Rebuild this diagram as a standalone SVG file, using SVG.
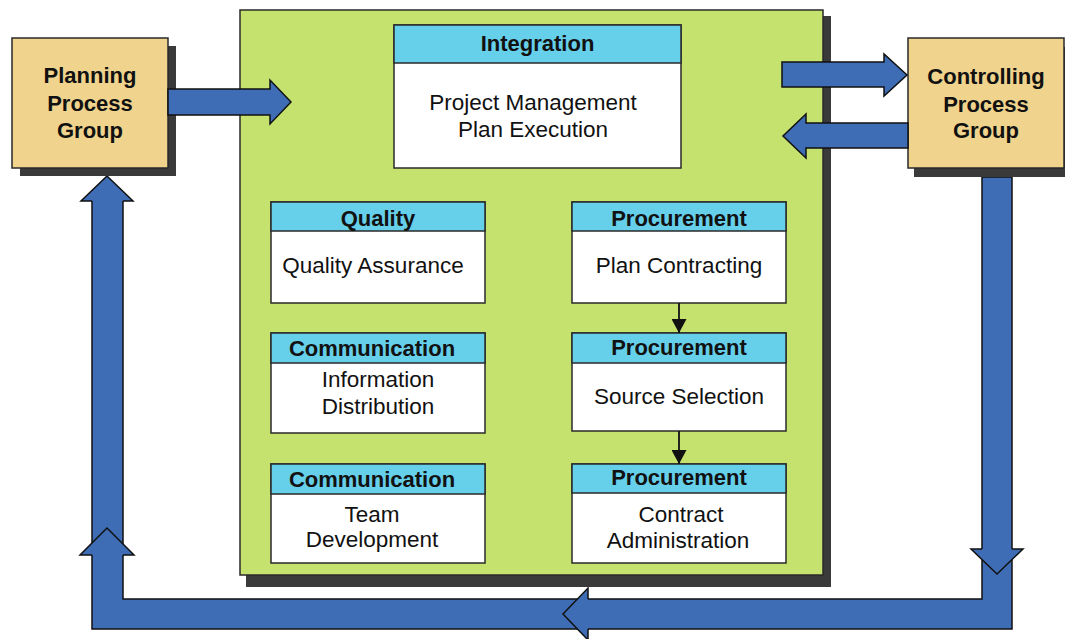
<svg xmlns="http://www.w3.org/2000/svg" width="1065" height="639" viewBox="0 0 1065 639">
<defs>
<style>
.shadow{fill:#3a3a3a}
.pg{fill:#f0d38c;stroke:#2a2a2a;stroke-width:1.5}
.green{fill:#c5e26f;stroke:#2a2a2a;stroke-width:1.5}
.box{fill:#ffffff;stroke:#2a2a2a;stroke-width:1.5}
.hdr{fill:#66cfea;stroke:#2a2a2a;stroke-width:1.5}
.blue{fill:#3e6db5;stroke:#111;stroke-width:1.5;stroke-linejoin:miter}
.bfill{fill:#3e6db5;stroke:none}
.bline{fill:none;stroke:#111;stroke-width:1.5;stroke-linejoin:miter}
.t{font-family:"Liberation Sans",Arial,sans-serif;font-size:22.5px;fill:#111;text-anchor:middle}
.b{font-weight:bold;font-size:22px}
.conn{stroke:#111;stroke-width:1.8;fill:none}
</style>
<marker id="ah" markerUnits="userSpaceOnUse" markerWidth="14" markerHeight="15" viewBox="0 0 14 15" refX="14" refY="7.5" orient="auto">
<path d="M0,0 L14,7.5 L0,15 z" fill="#111"/>
</marker>
</defs>
<rect width="1065" height="639" fill="#ffffff"/>

<g id="return-loop">
<path class="blue" d="M982,177 L1012,177 L1012,629 L92,629 L92,196 L123,196 L123,599 L982,599 Z"/>
<polygon class="bfill" points="81,201 107,176 133,201"/>
<path class="bline" d="M92,201 L81,201 L107,176 L133,201 L123,201"/>
<polygon class="bfill" points="80,555 107,528 134,555"/>
<path class="bline" d="M92,555 L80,555 L107,528 L134,555 L123,555"/>
<polygon class="bfill" points="971,549 997,574 1023,549"/>
<path class="bline" d="M982,549 L971,549 L997,574 L1023,549 L1012,549"/>
<polygon class="bfill" points="588,588 563,614 588,640"/>
<path class="bline" d="M588,599 L588,588 L563,614 L588,640 L588,629"/>
</g>

<g id="executing">
<rect class="shadow" x="246" y="16" width="585" height="571"/>
<rect class="green" x="240" y="10" width="583" height="565"/>
</g>

<g id="planning">
<rect class="shadow" x="20" y="46" width="156" height="130"/>
<rect class="pg" x="12" y="38" width="156" height="130"/>
<text class="t b" x="90" y="83">Planning</text>
<text class="t b" x="90" y="111">Process</text>
<text class="t b" x="90" y="138">Group</text>
</g>

<g id="controlling">
<rect class="shadow" x="914" y="47" width="156" height="130"/>
<rect class="pg" x="908" y="38" width="156" height="130"/>
<text class="t b" x="986" y="84">Controlling</text>
<text class="t b" x="986" y="112">Process</text>
<text class="t b" x="986" y="138">Group</text>
</g>

<g id="integration">
<rect class="box" x="394" y="25" width="287" height="143"/>
<rect class="hdr" x="394" y="25" width="287" height="38"/>
<text class="t b" x="537.5" y="51">Integration</text>
<text class="t" x="533" y="110">Project Management</text>
<text class="t" x="533" y="137">Plan Execution</text>
</g>

<g id="quality">
<rect class="box" x="271" y="202" width="214" height="101"/>
<rect class="hdr" x="271" y="202" width="214" height="29"/>
<text class="t b" x="378" y="226">Quality</text>
<text class="t" x="373" y="273">Quality Assurance</text>
</g>

<g id="comm1">
<rect class="box" x="271" y="333" width="214" height="100"/>
<rect class="hdr" x="271" y="333" width="214" height="30"/>
<text class="t b" x="372" y="356">Communication</text>
<text class="t" x="378" y="387">Information</text>
<text class="t" x="378" y="414">Distribution</text>
</g>

<g id="comm2">
<rect class="box" x="271" y="464" width="214" height="99"/>
<rect class="hdr" x="271" y="464" width="214" height="30"/>
<text class="t b" x="372" y="487">Communication</text>
<text class="t" x="372" y="522">Team</text>
<text class="t" x="372" y="547">Development</text>
</g>

<g id="proc1">
<rect class="box" x="572" y="202" width="214" height="101"/>
<rect class="hdr" x="572" y="202" width="214" height="29"/>
<text class="t b" x="679" y="226">Procurement</text>
<text class="t" x="679" y="273">Plan Contracting</text>
</g>

<g id="proc2">
<rect class="box" x="572" y="333" width="214" height="98"/>
<rect class="hdr" x="572" y="333" width="214" height="30"/>
<text class="t b" x="679" y="355">Procurement</text>
<text class="t" x="679" y="404">Source Selection</text>
</g>

<g id="proc3">
<rect class="box" x="572" y="464" width="214" height="99"/>
<rect class="hdr" x="572" y="464" width="214" height="29"/>
<text class="t b" x="679" y="485">Procurement</text>
<text class="t" x="681" y="522">Contract</text>
<text class="t" x="678" y="548">Administration</text>
</g>

<g id="connectors">
<path class="blue" d="M168,89 L270,89 L270,80 L291,102 L270,124 L270,115 L168,115 Z"/>
<path class="blue" d="M782,62 L884,62 L884,54 L907,75 L884,96 L884,87 L782,87 Z"/>
<path class="blue" d="M908,123 L806,123 L806,114 L783,136 L806,158 L806,148 L908,148 Z"/>
<line class="conn" x1="679" y1="303" x2="679" y2="333" marker-end="url(#ah)"/>
<line class="conn" x1="679" y1="431" x2="679" y2="464" marker-end="url(#ah)"/>
</g>
</svg>
